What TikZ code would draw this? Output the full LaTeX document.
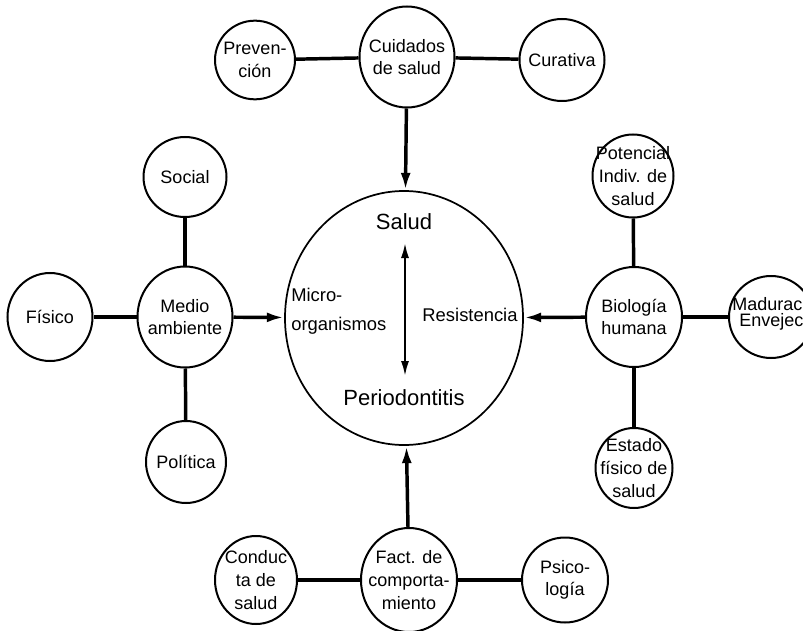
\documentclass[tikz,border=0pt]{standalone}
\usepackage{fontspec}
\setmainfont{Liberation Sans}
\usetikzlibrary{shapes.geometric,arrows.meta}
\newcommand\bubble[5]{%
  \node[bub, minimum width=#3, minimum height=#4] (#1) at #2 {};
  \node[txt] (#1-t) at (#1.center) {#5};}
\begin{document}
\begin{tikzpicture}[x=0.75pt,y=-0.75pt,
  bub/.style={draw, ellipse, line width=1.5pt, inner sep=0pt},
  txt/.style={align=center, inner sep=0pt, font=\fontsize{13.5}{17}\selectfont},
  link/.style={line width=2.6pt},
  arr/.style={line width=2.6pt, -{Latex[length=13pt,width=7.5pt]}},
  lab/.style={inner sep=0pt, font=\fontsize{13.8}{22}\selectfont},
  big/.style={inner sep=0pt, font=\fontsize{16.5}{20}\selectfont}]
\useasboundingbox (0,0) rectangle (803,631);
\fill[white] (0,0) rectangle (803,631);
\clip (0,0) rectangle (803,631);
% top row
\bubble{prev}{(255,60)}{60pt}{59pt}{Preven-\\ción}
\bubble{cuid}{(407,57)}{71.25pt}{75.75pt}{Cuidados\\de salud}
\bubble{cura}{(562,60)}{63.75pt}{61.5pt}{Curativa}
% left group
\bubble{soc}{(185,177)}{62.25pt}{60pt}{Social}
\bubble{fis}{(50,317)}{63.75pt}{66pt}{Físico}
\bubble{medio}{(185,317)}{71.25pt}{75.75pt}{Medio\\ambiente}
\bubble{pol}{(186,462)}{60pt}{61.5pt}{Política}
% right group
\bubble{pot}{(633,176)}{60.75pt}{62.25pt}{Potencial\\Indiv. de\\salud}
\bubble{bio}{(634,317)}{72pt}{75pt}{Biología\\humana}
\node[bub, minimum width=63pt, minimum height=61.5pt] (mad) at (771,317) {};
\node[txt, anchor=west] (mad-a) at (732,304) {Madurac};
\node[txt, anchor=west] (mad-b) at (739,322) {Envejec};
\bubble{est}{(634,468)}{57.75pt}{60pt}{Estado\\físico de\\salud}
% bottom row
\bubble{cond}{(256,580)}{61.5pt}{66pt}{Conduc\\ta de\\salud}
\bubble{fact}{(409,580)}{72pt}{78pt}{Fact. de\\comporta-\\miento}
\bubble{psi}{(565,580)}{64.5pt}{63.75pt}{Psico-\\logía}
% central
\node[draw, ellipse, line width=1.3pt, minimum width=178.5pt, minimum height=190.5pt, inner sep=0pt] (central) at (404,318) {};
\node[big] (salud) at (404,222) {Salud};
\node[big] (perio) at (404,398) {Periodontitis};
\node[lab, align=left, anchor=west] (micro) at (291,311) {Micro-\\organismos};
\node[lab] (resist) at (470,315) {Resistencia};
\coordinate (dtop) at (405,242);
\coordinate (dbot) at (405,377);
\draw[line width=2pt, {Latex[length=12pt,width=6pt]}-{Latex[length=12pt,width=6pt]}] (dtop) -- (dbot);
% links
\draw[link] (prev) -- (cuid);
\draw[link] (cuid) -- (cura);
\draw[link] (soc) -- (medio);
\draw[link] (fis) -- (medio);
\draw[link] (medio) -- (pol);
\draw[link] (pot) -- (bio);
\draw[link] (bio) -- (mad);
\draw[link] (bio) -- (est);
\draw[link] (cond) -- (fact);
\draw[link] (fact) -- (psi);
% arrows to centre
\draw[arr] (cuid) -- (central);
\draw[arr] (medio) -- (central);
\draw[arr] (bio) -- (central);
\draw[arr] (fact) -- (central);
\end{tikzpicture}
\end{document}
